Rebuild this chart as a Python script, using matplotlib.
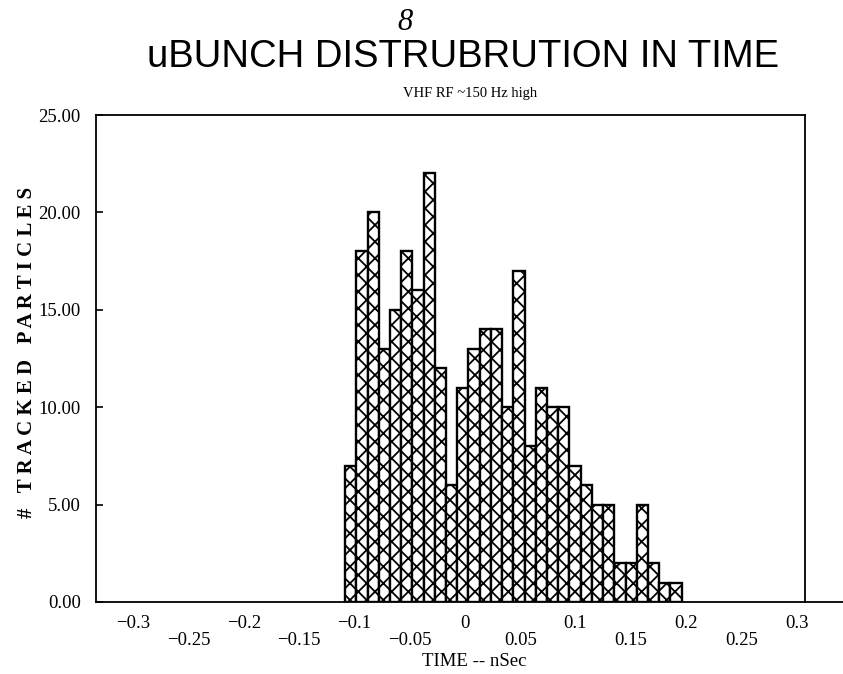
import numpy as np
import matplotlib
matplotlib.use("Agg")
import matplotlib.pyplot as plt
from matplotlib.lines import Line2D
from matplotlib.ticker import FixedLocator, FixedFormatter

# ---- data ----
bin_start = -0.1085          # left edge of first bin (nSec)
bin_width = 0.01015          # bin width (nSec)
counts = [7, 18, 20, 13, 15, 18, 16, 22, 12, 6,
          11, 13, 14, 14, 10, 17, 8, 11, 10, 10,
          7, 6, 5, 5, 2, 2, 5, 2, 1, 1]
major_x = [-0.3, -0.2, -0.1, 0.0, 0.1, 0.2, 0.3]
major_x_labels = ["\u22120.3", "\u22120.2", "\u22120.1", "0", "0.1", "0.2", "0.3"]
minor_x = [-0.25, -0.15, -0.05, 0.05, 0.15, 0.25]
minor_x_labels = ["\u22120.25", "\u22120.15", "\u22120.05", "0.05", "0.15", "0.25"]
y_ticks = [0, 5, 10, 15, 20, 25]
y_tick_labels = ["0.00", "5.00", "10.00", "15.00", "20.00", "25.00"]

title_mark = "8"
title = "uBUNCH DISTRUBRUTION IN TIME"
subtitle = "VHF RF ~150 Hz high"
xlabel = "TIME -- nSec"
ylabel = "# TRACKED PARTICLES"

# ---- figure ----
W, H = 843, 674
fig = plt.figure(figsize=(W / 100, H / 100), dpi=100)
plt.rcParams["hatch.linewidth"] = 1.3
serif = ["Liberation Serif", "DejaVu Serif"]

left_px, right_px, top_px, bottom_px = 96, 805, 115, 602
ax = fig.add_axes([left_px / W, 1 - bottom_px / H,
                   (right_px - left_px) / W, (bottom_px - top_px) / H])

edges = bin_start + bin_width * np.arange(len(counts))
ax.bar(edges, counts, width=bin_width, align="edge", color="white",
       edgecolor="black", linewidth=1.7, hatch="xx")

x0_px = 465
px_per_ns = 1105
ax.set_xlim((left_px - x0_px) / px_per_ns, (right_px - x0_px) / px_per_ns)
ax.set_ylim(0, 25)

for s in ax.spines.values():
    s.set_linewidth(1.3)

ax.xaxis.set_major_locator(FixedLocator(major_x))
ax.xaxis.set_major_formatter(FixedFormatter(major_x_labels))
ax.xaxis.set_minor_locator(FixedLocator(minor_x))
ax.xaxis.set_minor_formatter(FixedFormatter(minor_x_labels))
ax.tick_params(axis="x", which="major", length=0, pad=9, labelsize=13.5)
ax.tick_params(axis="x", which="minor", length=0, pad=21.5, labelsize=13.5)
for lab in ax.get_xticklabels(which="both"):
    lab.set_fontfamily(serif)

ax.set_yticks(y_ticks)
ax.set_yticklabels(y_tick_labels)
ax.tick_params(axis="y", direction="in", length=5, width=1.2, pad=11, labelsize=13.5)
for lab in ax.get_yticklabels():
    lab.set_fontfamily(serif)

# x label placed below the staggered tick rows
fig.text(474 / W, 1 - 661 / H, xlabel, family=serif, fontsize=13.5,
         ha="center", va="center")

# letter-spaced y label, as in the reference
spaced = "   ".join(" ".join(word) for word in ylabel.split(" "))
ylab = fig.text(27 / W, 1 - 352 / H, spaced,
                family=serif, fontsize=13, fontweight="bold", rotation=90,
                ha="center", va="center")
fig.canvas.draw()
ext = ylab.get_window_extent(fig.canvas.get_renderer())
ylab.set_fontsize(13 * 330 / ext.height)

# extended bottom line beyond the frame
fig.add_artist(Line2D([right_px / W, 1.0], [1 - bottom_px / H, 1 - bottom_px / H],
                      color="black", linewidth=1.3))

fig.text(405 / W, 1 - 22 / H, title_mark, family=serif, style="italic",
         fontsize=22, ha="center", va="center")
fig.text(463 / W, 1 - 57 / H, title, family=["Liberation Sans", "DejaVu Sans"],
         fontsize=27.5, ha="center", va="center")
fig.text(470 / W, 1 - 94 / H, subtitle, family=serif, fontsize=10.5,
         ha="center", va="center")

fig.savefig("out.png", dpi=100)
